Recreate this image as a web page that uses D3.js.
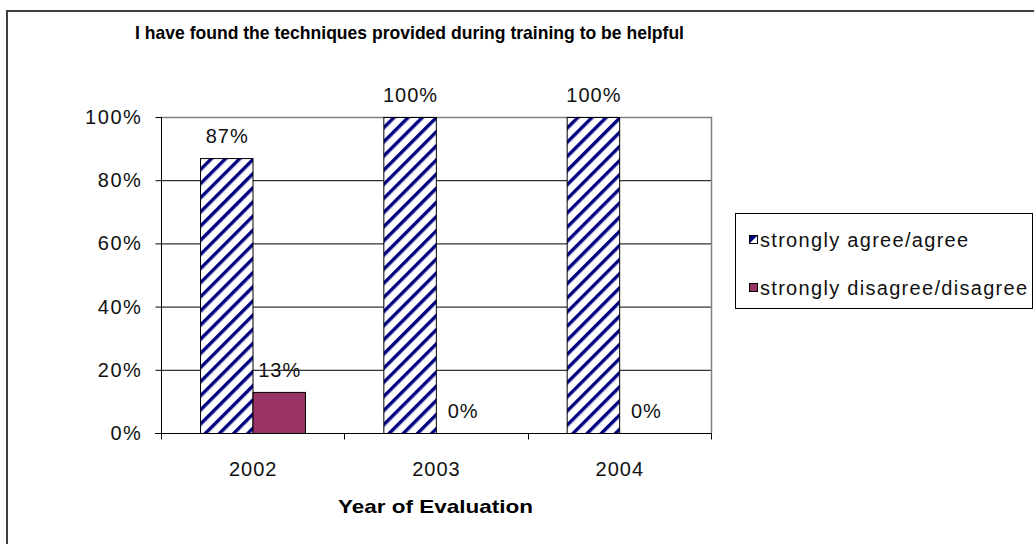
<!DOCTYPE html>
<html><head><meta charset="utf-8">
<script src="https://cdn.jsdelivr.net/npm/d3@7/dist/d3.min.js"></script>
<style>body{margin:0;background:#fff}svg{display:block}text{font-family:"Liberation Sans",Arial,sans-serif}</style>
</head><body>
<script>
const years = ["2002", "2003", "2004"];
const seriesNames = ["strongly agree/agree", "strongly disagree/disagree"];
const agree = [87, 100, 100];
const disagree = [13, 0, 0];
const yTicks = [0, 20, 40, 60, 80, 100];
const title = "I have found the techniques provided during training to be helpful";
const xTitle = "Year of Evaluation";

const W = 1034, H = 544;
const svg = d3.select("body").append("svg").attr("width", W).attr("height", H);
const defs = svg.append("defs");
const pat = defs.append("pattern").attr("id", "hatch").attr("patternUnits", "userSpaceOnUse")
  .attr("width", 10).attr("height", 10).attr("patternTransform", "rotate(45)");
pat.append("rect").attr("width", 10).attr("height", 10).attr("fill", "#fff");
pat.append("rect").attr("x", 0).attr("y", 0).attr("width", 3.4).attr("height", 10).attr("fill", "#000080");

// outer frame
svg.append("rect").attr("x", 7).attr("y", 11).attr("width", 1040).attr("height", 560)
  .attr("fill", "none").attr("stroke", "#404040").attr("stroke-width", 2);

const pLeft = 161, pRight = 711, pTop = 117, pBottom = 433;
const x = d3.scaleBand().domain(years).range([pLeft, pRight]).paddingInner(0).paddingOuter(0);
const inner = d3.scaleBand().domain(seriesNames).range([39, 39 + 105]);
const y = d3.scaleLinear().domain([0, 100]).range([pBottom, pTop]);

// gridlines
svg.append("g").selectAll("line").data(yTicks.filter(d => d > 0 && d < 100)).join("line")
  .attr("x1", pLeft).attr("x2", pRight).attr("y1", d => y(d) + 0.5).attr("y2", d => y(d) + 0.5)
  .attr("stroke", "#000").attr("stroke-width", 1);
// plot border top/right
svg.append("path").attr("d", `M${pLeft},${y(100) + 0.5}H${pRight + 0.5}V${pBottom}`)
  .attr("fill", "none").attr("stroke", "#808080").attr("stroke-width", 1.5);

const data = years.map((yr, i) => ({yr, vals: [agree[i], disagree[i]]}));
const fills = ["url(#hatch)", "#993366"];
const g = svg.append("g");
data.forEach(d => {
  d.vals.forEach((v, j) => {
    const bx = x(d.yr) + inner(seriesNames[j]);
    if (v > 0) {
      g.append("rect").attr("x", bx + 0.5).attr("y", y(v) + 0.5)
        .attr("width", inner.bandwidth()).attr("height", y(0) - y(v))
        .attr("fill", fills[j]).attr("stroke", "#000").attr("stroke-width", 1);
    }
    g.append("text").attr("x", bx + inner.bandwidth() / 2 + 1).attr("y", y(v) - 15)
      .attr("text-anchor", "middle").attr("font-size", 20).attr("letter-spacing", 1)
      .attr("fill", "#111").text(v + "%");
  });
});

// y axis
const ya = svg.append("g").attr("transform", `translate(${pLeft + 0.5},0)`)
  .call(d3.axisLeft(y).tickValues(yTicks).tickFormat(d => d + "%").tickSize(6).tickPadding(13));
ya.select(".domain").attr("stroke", "#000").attr("d", `M0,${y(100)}V${pBottom + 0.5}`);
ya.selectAll(".tick line").attr("stroke", "#000");
ya.selectAll("text").attr("font-size", 20).attr("letter-spacing", 1.6).attr("fill", "#111")
  .attr("font-family", "Liberation Sans, Arial, sans-serif");

// x axis
const xa = svg.append("g").attr("transform", `translate(0,${pBottom + 0.5})`);
xa.append("line").attr("x1", pLeft - 6).attr("x2", pRight + 1).attr("y1", 0).attr("y2", 0).attr("stroke", "#000");
const bounds = [pLeft, ...years.map(yr => x(yr) + x.bandwidth())];
xa.selectAll(".xt").data(bounds).join("line").attr("class", "xt")
  .attr("x1", d => Math.round(d) + 0.5).attr("x2", d => Math.round(d) + 0.5).attr("y1", 0).attr("y2", 6).attr("stroke", "#000");
xa.selectAll(".xl").data(years).join("text").attr("class", "xl")
  .attr("x", d => x(d) + x.bandwidth() / 2 + 0.5).attr("y", 42)
  .attr("text-anchor", "middle").attr("font-size", 20).attr("letter-spacing", 1).attr("fill", "#111").text(d => d);

// titles
svg.append("text").attr("x", 135).attr("y", 39).attr("font-size", 19).attr("font-weight", "bold")
  .attr("textLength", 549).attr("lengthAdjust", "spacingAndGlyphs").text(title);
svg.append("text").attr("x", 338).attr("y", 513).attr("font-size", 19).attr("font-weight", "bold")
  .attr("textLength", 195).attr("lengthAdjust", "spacingAndGlyphs").text(xTitle);

// legend
const lg = svg.append("g");
lg.append("rect").attr("x", 735.5).attr("y", 213.5).attr("width", 297).attr("height", 95)
  .attr("fill", "#fff").attr("stroke", "#000").attr("stroke-width", 1);
const lfills = ["#000080", "#993366"];
seriesNames.forEach((s, i) => {
  const cy = 240 + i * 48;
  const sw = lg.append("g");
  sw.append("rect").attr("x", 749.5).attr("y", cy - 4.5).attr("width", 8).attr("height", 8)
    .attr("fill", i === 0 ? "#fff" : lfills[i]).attr("stroke", "#000");
  if (i === 0) sw.append("path").attr("d", `M750,${cy - 4}H757L750,${cy + 3}Z`).attr("fill", "#000080");
  lg.append("text").attr("x", 760).attr("y", cy + 7).attr("font-size", 20).attr("letter-spacing", 1.3)
    .attr("fill", "#111").text(s);
});
</script>
</body></html>
